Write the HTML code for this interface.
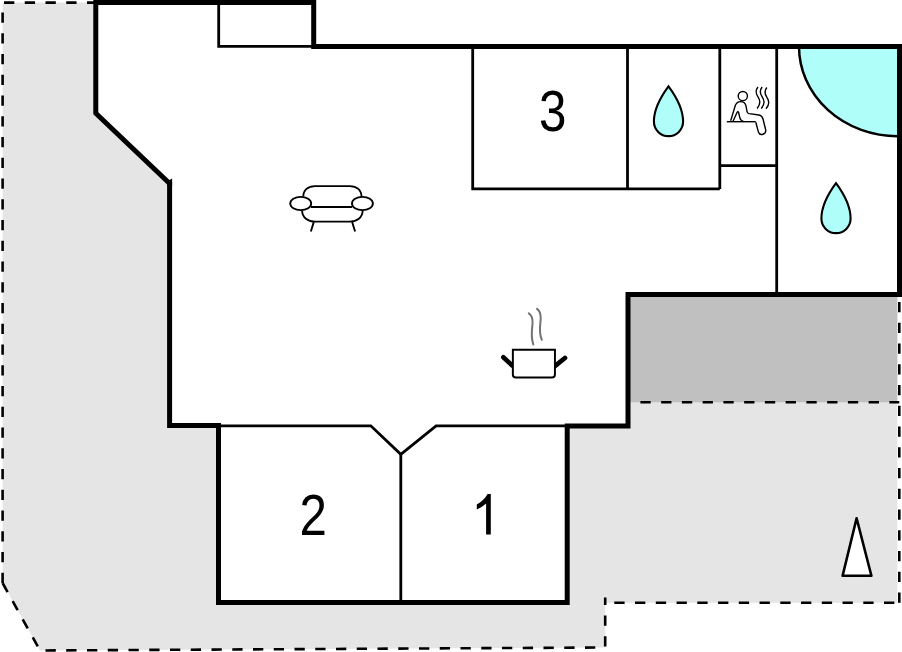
<!DOCTYPE html>
<html><head><meta charset="utf-8">
<style>
html,body{margin:0;padding:0;background:#fff;width:902px;height:652px;overflow:hidden}
svg{display:block}
text{font-family:"Liberation Sans",sans-serif}
</style></head>
<body>
<svg width="902" height="652" viewBox="0 0 902 652">
<!-- light gray site -->
<path d="M2.6,2.6 L96,2.6 L95.8,113.3 L169.6,183.5 L169.6,425.5 L218.5,425.5 L218.5,602.5 L567.2,602.5 L567.2,426 L628,426 L628,294.5 L897.3,294.5 L897.3,602.8 L605.2,602.8 L605.2,647.5 L40,650.5 L2.6,583 Z" fill="#e5e5e5"/>
<!-- dark gray terrace -->
<rect x="628" y="294.5" width="269.3" height="107.8" fill="#c0c0c0"/>
<!-- building interior -->
<path d="M95.8,2.5 L313.7,2.5 L313.7,46.5 L899.5,46.5 L899.5,294.5 L628,294.5 L628,426 L567.2,426 L567.2,602.5 L218.5,602.5 L218.5,425.5 L169.6,425.5 L169.6,183.5 L95.8,113.3 Z" fill="#fff"/>
<!-- pool quarter -->
<path d="M799,46.5 A98.5,89.7 0 0 0 897.5,136.2 L897.5,46.5 Z" fill="#b0fefa"/>
<path d="M799,46.5 A98.5,89.7 0 0 0 897.5,136.2" fill="none" stroke="#000" stroke-width="2.5"/>

<!-- dashed outlines -->
<g fill="none" stroke="#000" stroke-width="2.6" stroke-dasharray="10.3 10.45">
<path d="M2.6,2.6 L96,2.6" stroke-dashoffset="19.35"/>
<path d="M2.6,583 L2.6,2.6"/>
<path d="M2.6,583 L40,650.5"/>
<path d="M40,650.5 L605.2,647.5" stroke-dashoffset="15.25"/>
<path d="M605.2,647.5 L605.2,597.6" stroke-dashoffset="19.75"/>
<path d="M605.2,602.8 L899.3,602.8" stroke-dashoffset="11.65"/>
<path d="M899.3,602.8 L899.3,297"/>
<path d="M631,402.3 L899.3,402.3" stroke-dashoffset="11.35"/>
</g>

<!-- thin interior lines -->
<g fill="none" stroke="#000" stroke-width="2.8">
<path d="M218.7,4 L218.7,46.3 L313,46.3"/>
<path d="M472.7,46.5 L472.7,188.8 L719.8,188.8"/>
<path d="M627.5,46.5 L627.5,188.8"/>
<path d="M719.8,46.5 L719.8,189"/>
<path d="M719.8,165.6 L776.7,165.6"/>
<path d="M776.7,46.5 L776.7,294.5"/>
<path d="M218.5,425.8 L370.8,425.8 L400.8,454.3 L436.1,425.8 L567.2,425.8"/>
<path d="M400.8,454.3 L400.8,602.5"/>
</g>

<!-- thick walls -->
<path d="M95.8,2.5 L313.7,2.5 L313.7,46.5 L899.5,46.5 L899.5,294.5 L628,294.5 L628,426 L567.2,426 L567.2,602.5 L218.5,602.5 L218.5,425.5 L169.6,425.5 L169.6,183.5 L95.8,113.3 Z" fill="none" stroke="#000" stroke-width="5" stroke-linejoin="miter"/>

<path d="M168.8,180.6 L172.1,178.6 L172.1,186 L167.1,186 Z" fill="#000"/>
<!-- labels -->
<text transform="translate(552.6,131) scale(0.87,1)" font-size="56.6" text-anchor="middle">3</text>
<text transform="translate(313.2,534.6) scale(0.87,1)" font-size="56.6" text-anchor="middle">2</text>
<path d="M490.8,534.4 L486.1,534.4 L486.1,503.6 C483.3,506.2 480,508.2 476.8,509.5 L476.8,504.6 C481.2,502.4 485.2,498.6 487.6,494.1 L490.8,494.1 Z" fill="#000"/>

<!-- drops -->
<g fill="#b0fefa" stroke="#000" stroke-width="2.1">
<path d="M668.5,86.3 C662,95 653.9,108 653.9,121.6 A14.6,14.6 0 0 0 683.1,121.6 C683.1,108 675,95 668.5,86.3 Z"/>
<path d="M836,183.2 C829.5,192 821.4,205 821.4,218.6 A14.6,14.6 0 0 0 850.6,218.6 C850.6,205 842.5,192 836,183.2 Z"/>
</g>

<!-- north arrow -->
<path d="M856.6,518.3 L842.6,575.8 L871.4,575.8 Z" fill="#fff" stroke="#000" stroke-width="2.6" stroke-linejoin="round"/>

<!-- sofa -->
<g transform="translate(280,175) scale(0.11641)" fill="none" stroke="#000" stroke-width="16">
<path d="M200,185 C200,130 240,95 300,95 L600,95 C660,95 700,130 700,185"/>
<ellipse cx="178" cy="245" rx="90" ry="57"/>
<ellipse cx="708" cy="245" rx="90" ry="57"/>
<path d="M265,275 L620,275"/>
<path d="M190,305 C190,365 240,400 300,400 L600,400 C660,400 710,365 710,305"/>
<path d="M290,405 L265,485 M620,405 L645,485"/>
</g>

<!-- pot -->
<g transform="translate(495,300) scale(0.1303)">

<path d="M64,440 L132,502 M537,445 L462,506" fill="none" stroke="#000" stroke-width="36" stroke-linecap="round"/>
<path d="M137,382 L460,382 L460,572 Q460,595 437,595 L160,595 Q137,595 137,572 Z" fill="#fff" stroke="#000" stroke-width="15"/>
</g>

<g fill="none" stroke="#737373" stroke-width="2" stroke-linecap="round">
<path d="M528.8,313.3 C531.5,315 533,318 532.5,324 C532,330 530.5,336 533.3,344.5"/>
<path d="M537,308.8 C539.5,310.5 541,313 540.7,319 C540.3,325 538.5,333 541.8,339.8"/>
</g>
<!-- sauna -->
<g transform="translate(715,75) scale(0.10737)" fill="none" stroke="#000" stroke-width="13">
<circle cx="259" cy="196" r="43"/>
<path d="M146,426 L189,285 C198,262 215,248 236,248 C262,248 282,262 288,285 L299,343 C302,355 306,358 318,360 L410,373 C435,377 442,392 447,410 L472,510 C480,552 420,572 404,530 L380,440"/>
<path d="M168,431 L207,345 C209,340 217,339 219,347 L232,400 C236,420 246,428 267,435"/>
<path d="M110,435 L380,435"/>
<path d="M400,112 C378,140 375,165 398,200 C420,235 430,265 392,312"/>
<path d="M439,112 C417,140 414,165 437,200 C459,235 469,265 431,312"/>
<path d="M483,116 C461,144 458,169 481,204 C503,239 513,269 475,314"/>
</g>
</svg>
</body></html>
